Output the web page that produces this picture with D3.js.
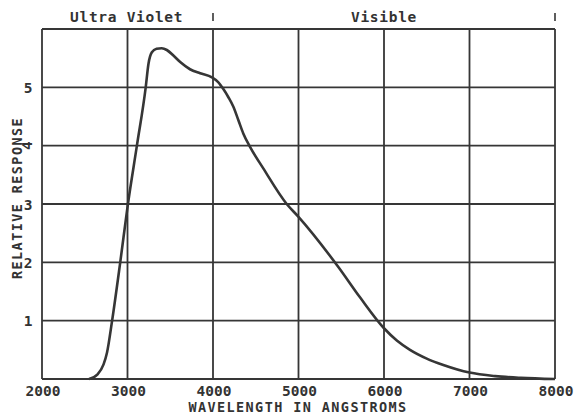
<!DOCTYPE html>
<html>
<head>
<meta charset="utf-8">
<script src="https://cdn.jsdelivr.net/npm/d3@7"></script>
<style>
  html, body { margin: 0; padding: 0; background: #fff; }
  svg { display: block; }
  text { font-family: "DejaVu Sans Mono", "Liberation Mono", monospace; fill: #333; font-weight: bold; }
</style>
</head>
<body>
<svg id="chart" width="574" height="414"></svg>
<script>
// Spectral response curve: wavelength (Å) vs relative response
const wavelengths = [2550, 2650, 2720, 2760, 2820, 2915, 3005, 3110, 3213, 3245, 3285, 3340,
  3400, 3460, 3540, 3620, 3731, 3850, 3988, 4060, 4121, 4180, 4237, 4296, 4354, 4433, 4588,
  4862, 5000, 5466, 5719, 6000, 6150, 6304, 6500, 6694, 7000, 7300, 7600, 8000];
const response = [0, 0.08, 0.25, 0.45, 1.0, 2.0, 3.0, 4.0, 5.0, 5.4, 5.6, 5.66,
  5.67, 5.64, 5.54, 5.43, 5.31, 5.24, 5.17, 5.09, 4.97, 4.83, 4.67, 4.44, 4.21, 3.98, 3.61,
  3.0, 2.78, 1.92, 1.40, 0.87, 0.66, 0.50, 0.35, 0.24, 0.11, 0.05, 0.02, 0];

const xTicks = [2000, 3000, 4000, 5000, 6000, 7000, 8000];
const yTicks = [1, 2, 3, 4, 5];
const yGrid = [1, 2, 3, 4, 5, 6];

// Spectral regions shown above the plot
const regionNames = ["Ultra Violet", "Visible"];
const regionCenters = [2990, 6000];
const regionBounds = [4000, 8000];

const svg = d3.select("#chart");
const ink = "#363636";

const x = d3.scaleLinear().domain([2000, 8000]).range([42, 555]);
const y = d3.scaleLinear().domain([0, 6]).range([379, 29]);

// Grid
const grid = svg.append("g").attr("stroke", ink).attr("stroke-width", 1.8);
grid.selectAll("line.v").data(xTicks).join("line")
  .attr("x1", d => x(d)).attr("x2", d => x(d))
  .attr("y1", y(0)).attr("y2", y(6));
grid.selectAll("line.h").data([0].concat(yGrid)).join("line")
  .attr("x1", x(2000)).attr("x2", x(8000))
  .attr("y1", d => y(d)).attr("y2", d => y(d));

// X tick labels
svg.append("g").selectAll("text").data(xTicks).join("text")
  .attr("x", d => x(d) + 1).attr("y", 396)
  .attr("text-anchor", "middle")
  .attr("font-size", 14.5)
  .text(d => d);

// Y tick labels (the 4 is set sideways)
svg.append("g").selectAll("text").data(yTicks).join("text")
  .attr("transform", d => d === 4
    ? `translate(32,${y(d)}) rotate(-90)`
    : `translate(28,${y(d) + 5.5})`)
  .attr("text-anchor", "middle")
  .attr("font-size", 14.5)
  .text(d => d);

// Axis titles
svg.append("text")
  .attr("x", 298).attr("y", 411.5)
  .attr("text-anchor", "middle")
  .attr("font-size", 13.5)
  .attr("letter-spacing", 1.4)
  .text("WAVELENGTH IN ANGSTROMS");

svg.append("text")
  .attr("transform", "translate(22,198) rotate(-90)")
  .attr("text-anchor", "middle")
  .attr("font-size", 13.5)
  .attr("letter-spacing", 1.4)
  .text("RELATIVE RESPONSE");

// Region labels and boundary marks above the frame
svg.append("g").selectAll("text").data(regionNames).join("text")
  .attr("x", (d, i) => x(regionCenters[i])).attr("y", 21.5)
  .attr("text-anchor", "middle")
  .attr("font-size", 14.5)
  .attr("letter-spacing", 0.7)
  .text(d => d);

svg.append("g").selectAll("line").data(regionBounds).join("line")
  .attr("x1", d => x(d)).attr("x2", d => x(d))
  .attr("y1", 13).attr("y2", 21)
  .attr("stroke", ink).attr("stroke-width", 1.6);

// Response curve
const line = d3.line()
  .x((d, i) => x(wavelengths[i]))
  .y(d => y(d))
  .curve(d3.curveMonotoneX);

svg.append("path")
  .datum(response)
  .attr("d", line)
  .attr("fill", "none")
  .attr("stroke", ink)
  .attr("stroke-width", 2.6)
  .attr("stroke-linejoin", "round");
</script>
</body>
</html>
